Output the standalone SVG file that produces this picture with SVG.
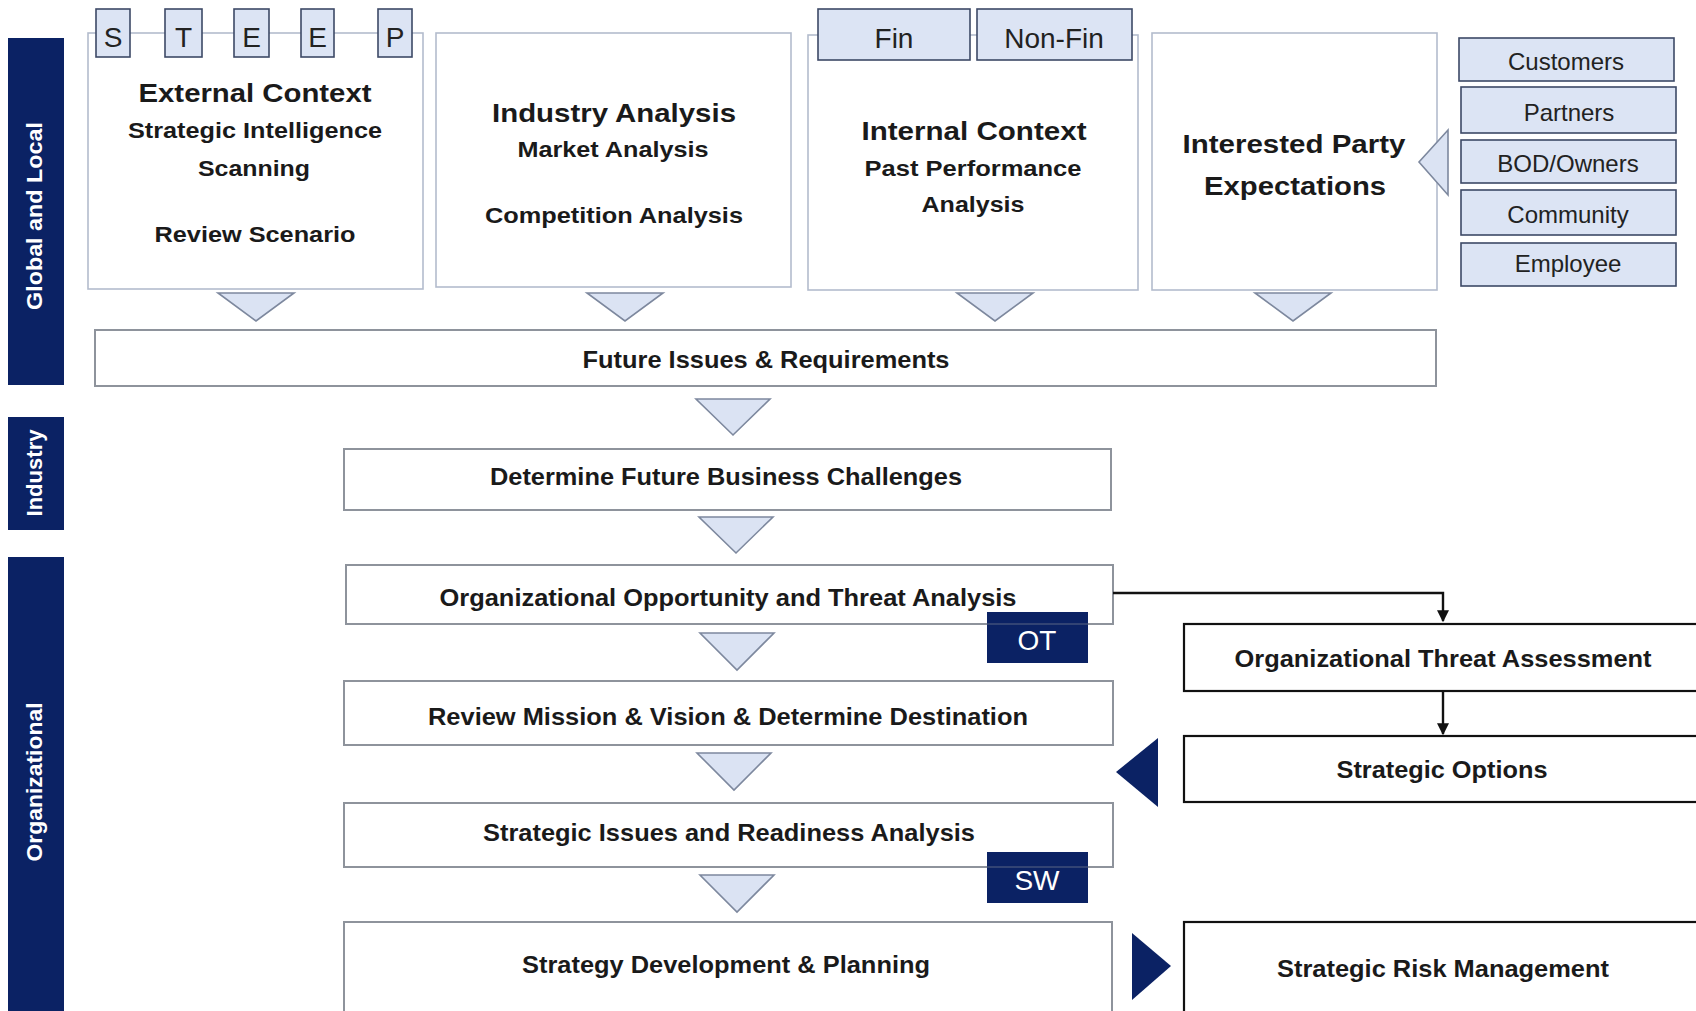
<svg xmlns="http://www.w3.org/2000/svg" width="1696" height="1011" viewBox="0 0 1696 1011">
<style>
.bg{fill:#ffffff}
.bar{fill:#0b2264}
.bartxt{font-family:"Liberation Sans",Arial,sans-serif;font-weight:bold;font-size:22px;fill:#ffffff;text-anchor:middle}
.topbox{fill:#ffffff;stroke:#b3bccd;stroke-width:1.6}
.tab{fill:#dce4f4;stroke:#3d4966;stroke-width:1.6}
.tabtxt{font-family:"Liberation Sans",Arial,sans-serif;font-size:28px;fill:#222;text-anchor:middle}
.stk{fill:#dce4f4;stroke:#3d4966;stroke-width:1.6}
.stktxt{font-family:"Liberation Sans",Arial,sans-serif;font-size:24px;fill:#222;text-anchor:middle}
.h1{font-family:"Liberation Sans",Arial,sans-serif;font-weight:bold;font-size:26px;fill:#1a1a1a;text-anchor:middle}
.h2{font-family:"Liberation Sans",Arial,sans-serif;font-weight:bold;font-size:22px;fill:#1a1a1a;text-anchor:middle}
.proc{fill:#ffffff;stroke:#8e939c;stroke-width:2}
.ptxt{font-family:"Liberation Sans",Arial,sans-serif;font-weight:bold;font-size:24px;fill:#1a1a1a;text-anchor:middle}
.rbox{fill:#ffffff;stroke:#111;stroke-width:2.2}
.tri{fill:#dbe3f3;stroke:#7d889e;stroke-width:1.6}
.ntri{fill:#0b2264}
.badge{fill:#0b2264}
.btxt{font-family:"Liberation Sans",Arial,sans-serif;font-size:28px;fill:#ffffff;text-anchor:middle}
.conn{fill:none;stroke:#111;stroke-width:2.4}
</style>
<defs>
<marker id="arr" viewBox="0 0 10 10" refX="9" refY="5" markerWidth="5" markerHeight="5" orient="auto" markerUnits="strokeWidth">
<path d="M0,0 L10,5 L0,10 z" fill="#111"/>
</marker>
</defs>
<rect class="bg" x="0" y="0" width="1696" height="1011"/>

<g id="bar-global">
<rect class="bar" x="8" y="38" width="56" height="347"/>
<text class="bartxt" transform="translate(42,216) rotate(-90)" textLength="188" lengthAdjust="spacingAndGlyphs">Global and Local</text>
</g>
<g id="bar-industry">
<rect class="bar" x="8" y="417" width="56" height="113"/>
<text class="bartxt" transform="translate(42,473) rotate(-90)" textLength="87" lengthAdjust="spacingAndGlyphs">Industry</text>
</g>
<g id="bar-org">
<rect class="bar" x="8" y="557" width="56" height="460"/>
<text class="bartxt" transform="translate(42,782) rotate(-90)" textLength="159" lengthAdjust="spacingAndGlyphs">Organizational</text>
</g>

<g id="external-context">
<rect class="topbox" x="88" y="33" width="335" height="256"/>
<rect class="tab" x="96" y="9" width="34" height="48"/>
<text class="tabtxt" x="113" y="47">S</text>
<rect class="tab" x="165" y="9" width="37" height="48"/>
<text class="tabtxt" x="183.5" y="47">T</text>
<rect class="tab" x="234" y="9" width="35" height="48"/>
<text class="tabtxt" x="251.5" y="47">E</text>
<rect class="tab" x="301" y="9" width="33" height="48"/>
<text class="tabtxt" x="317.5" y="47">E</text>
<rect class="tab" x="378" y="9" width="34" height="48"/>
<text class="tabtxt" x="395" y="47">P</text>
<text class="h1" x="255" y="102" textLength="233" lengthAdjust="spacingAndGlyphs">External Context</text>
<text class="h2" x="255" y="138" textLength="254" lengthAdjust="spacingAndGlyphs">Strategic Intelligence</text>
<text class="h2" x="254" y="176" textLength="112" lengthAdjust="spacingAndGlyphs">Scanning</text>
<text class="h2" x="255" y="242" textLength="201" lengthAdjust="spacingAndGlyphs">Review Scenario</text>
</g>

<g id="industry-analysis">
<rect class="topbox" x="436" y="33" width="355" height="254"/>
<text class="h1" x="614" y="122" textLength="244" lengthAdjust="spacingAndGlyphs">Industry Analysis</text>
<text class="h2" x="613" y="157" textLength="191" lengthAdjust="spacingAndGlyphs">Market Analysis</text>
<text class="h2" x="614" y="223" textLength="258" lengthAdjust="spacingAndGlyphs">Competition Analysis</text>
</g>

<g id="internal-context">
<rect class="topbox" x="808" y="35" width="330" height="255"/>
<rect class="tab" x="818" y="9" width="152" height="51"/>
<text class="tabtxt" x="894" y="48">Fin</text>
<rect class="tab" x="977" y="9" width="155" height="51"/>
<text class="tabtxt" x="1054" y="48">Non-Fin</text>
<text class="h1" x="974" y="140" textLength="225" lengthAdjust="spacingAndGlyphs">Internal Context</text>
<text class="h2" x="973" y="176" textLength="217" lengthAdjust="spacingAndGlyphs">Past Performance</text>
<text class="h2" x="973" y="212" textLength="103" lengthAdjust="spacingAndGlyphs">Analysis</text>
</g>

<g id="interested-party">
<rect class="topbox" x="1152" y="33" width="285" height="257"/>
<text class="h1" x="1294" y="153" textLength="223" lengthAdjust="spacingAndGlyphs">Interested Party</text>
<text class="h1" x="1295" y="195" textLength="182" lengthAdjust="spacingAndGlyphs">Expectations</text>
</g>

<g id="stakeholders">
<rect class="stk" x="1459" y="38" width="215" height="43"/>
<text class="stktxt" x="1566" y="70">Customers</text>
<rect class="stk" x="1461" y="87" width="215" height="46"/>
<text class="stktxt" x="1569" y="121">Partners</text>
<rect class="stk" x="1461" y="140" width="215" height="43"/>
<text class="stktxt" x="1568" y="172">BOD/Owners</text>
<rect class="stk" x="1461" y="190" width="215" height="45"/>
<text class="stktxt" x="1568" y="223">Community</text>
<rect class="stk" x="1461" y="243" width="215" height="43"/>
<text class="stktxt" x="1568" y="272">Employee</text>
</g>

<g id="future-issues">
<rect class="proc" x="95" y="330" width="1341" height="56"/>
<text class="ptxt" x="766" y="368" textLength="367" lengthAdjust="spacingAndGlyphs">Future Issues &amp; Requirements</text>
</g>

<g id="determine-challenges">
<rect class="proc" x="344" y="449" width="767" height="61"/>
<text class="ptxt" x="726" y="485" textLength="472" lengthAdjust="spacingAndGlyphs">Determine Future Business Challenges</text>
</g>

<g id="ot-analysis">
<rect class="proc" x="346" y="565" width="767" height="59"/>
<text class="ptxt" x="728" y="606" textLength="577" lengthAdjust="spacingAndGlyphs">Organizational Opportunity and Threat Analysis</text>
<rect class="badge" x="987" y="612" width="101" height="51"/>
<line x1="987" y1="624" x2="1088" y2="624" stroke="#8e939c" stroke-width="1" opacity="0.6"/>
<text class="btxt" x="1037" y="650">OT</text>
</g>

<g id="review-mission">
<rect class="proc" x="344" y="681" width="769" height="64"/>
<text class="ptxt" x="728" y="725" textLength="600" lengthAdjust="spacingAndGlyphs">Review Mission &amp; Vision &amp; Determine Destination</text>
</g>

<g id="strategic-issues">
<rect class="proc" x="344" y="803" width="769" height="64"/>
<text class="ptxt" x="729" y="841" textLength="492" lengthAdjust="spacingAndGlyphs">Strategic Issues and Readiness Analysis</text>
<rect class="badge" x="987" y="852" width="101" height="51"/>
<line x1="987" y1="867" x2="1088" y2="867" stroke="#8e939c" stroke-width="1" opacity="0.6"/>
<text class="btxt" x="1037" y="890">SW</text>
</g>

<g id="strategy-development">
<rect class="proc" x="344" y="922" width="768" height="110"/>
<text class="ptxt" x="726" y="973" textLength="408" lengthAdjust="spacingAndGlyphs">Strategy Development &amp; Planning</text>
</g>

<g id="org-threat-assessment">
<rect class="rbox" x="1184" y="624" width="540" height="67"/>
<text class="ptxt" x="1443" y="667" textLength="417" lengthAdjust="spacingAndGlyphs">Organizational Threat Assessment</text>
</g>

<g id="strategic-options">
<rect class="rbox" x="1184" y="736" width="540" height="66"/>
<text class="ptxt" x="1442" y="778" textLength="211" lengthAdjust="spacingAndGlyphs">Strategic Options</text>
</g>

<g id="strategic-risk-management">
<rect class="rbox" x="1184" y="922" width="540" height="110"/>
<text class="ptxt" x="1443" y="977" textLength="332" lengthAdjust="spacingAndGlyphs">Strategic Risk Management</text>
</g>

<g id="connectors">
<polygon class="tri" points="218,293 294,293 256,321"/>
<polygon class="tri" points="587,293 663,293 625,321"/>
<polygon class="tri" points="957,293 1033,293 995,321"/>
<polygon class="tri" points="1255,293 1331,293 1293,321"/>
<polygon class="tri" points="1448,130 1448,195 1419,162"/>
<polygon class="tri" points="696,399 770,399 733,435"/>
<polygon class="tri" points="699,517 773,517 736,553"/>
<polygon class="tri" points="700,633 774,633 737,670"/>
<polygon class="tri" points="697,753 771,753 734,790"/>
<polygon class="tri" points="700,875 774,875 737,912"/>
<polygon class="ntri" points="1158,738 1158,807 1116,772"/>
<polygon class="ntri" points="1132,933 1171,966 1132,1000"/>
<path class="conn" d="M1113,593 H1443 V621" marker-end="url(#arr)"/>
<path class="conn" d="M1443,691 V734" marker-end="url(#arr)"/>
</g>
</svg>
